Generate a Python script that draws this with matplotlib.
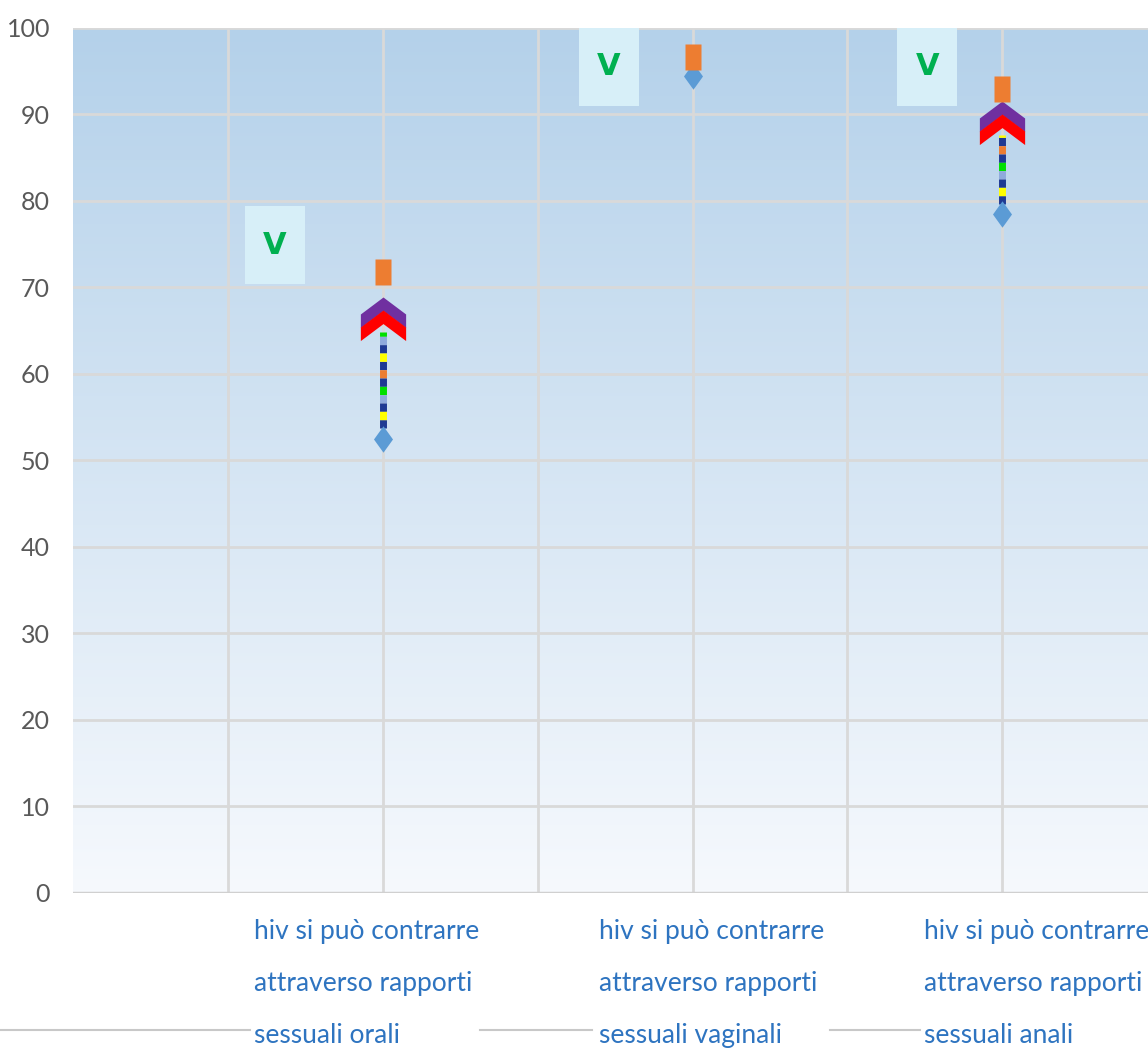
import numpy as np
import matplotlib
matplotlib.use('Agg')
import matplotlib.pyplot as plt
from matplotlib.path import Path
from matplotlib.patches import Rectangle
from matplotlib.lines import Line2D
import matplotlib.transforms as mtransforms

# data
categories = ['hiv si può contrarre\nattraverso rapporti\nsessuali orali',
              'hiv si può contrarre\nattraverso rapporti\nsessuali vaginali',
              'hiv si può contrarre\nattraverso rapporti\nsessuali anali']
cat_pos = [1, 2, 3]
before = [52.5, 94.5, 78.5]        # blue diamonds
after = [71.8, 96.6, 93.0]         # orange squares
arrow_tip = [68.9, None, 91.6]     # top of the coloured arrows
v_boxes = [(0.555, 70.4), (1.632, 91.0), (2.661, 91.0)]  # lower-left of "V" boxes
yticks = list(range(0, 101, 10))

fam = ['Lato', 'DejaVu Sans']

fig = plt.figure(figsize=(11.48, 10.55), dpi=100)
ax = fig.add_axes([0.0636, 0.1536, 0.9364, 0.8199])
ax.set_xlim(0, 3.47)
ax.set_ylim(0, 100)

# gradient background
grad = np.linspace(0, 1, 256).reshape(-1, 1)
top = np.array([180, 209, 234]) / 255.
bot = np.array([246, 249, 253]) / 255.
img = bot + (top - bot) * grad
ax.imshow(img[:, None, :].repeat(2, axis=1), extent=[0, 3.47, 0, 100],
          origin='lower', aspect='auto', zorder=0)

# grid
for y in yticks:
    ax.axhline(y, color='#d9d9d9', lw=2, zorder=1)
for x in np.arange(0.5, 3.5, 0.5):
    ax.axvline(x, color='#d9d9d9', lw=2, zorder=1)

for s in ax.spines.values():
    s.set_visible(False)
ax.tick_params(length=0)
ax.set_xticks([])
ax.set_yticks(yticks)
ax.set_yticklabels([str(t) for t in yticks], color='#595959', fontsize=18, family=fam)
ax.tick_params(axis='y', pad=16.5)

# arrows: multicoloured dotted shaft and double chevron head
shaft_cols = ['#1f3a93', '#ed7d31', '#1f3a93', '#00e000', '#8faadc', '#1f3a93', '#ffff00']
chev = Path([(0, 0), (1, -0.75), (1, -1.35), (0, -0.6), (-1, -1.35), (-1, -0.75), (0, 0)],
            [Path.MOVETO] + [Path.LINETO] * 5 + [Path.CLOSEPOLY])
for x, lo, hi in zip(cat_pos, before, arrow_tip):
    if hi is None:
        continue
    shaft_top = hi - 4
    n = len(shaft_cols)
    for i, c in enumerate(shaft_cols):
        ax.plot([x, x], [lo + 1.2, shaft_top], color=c, lw=5, zorder=3,
                linestyle=(i * 1.2, (1.2, 1.2 * (n - 1))), solid_capstyle='butt')
    ax.plot([x], [hi], marker=chev, ms=44, color='#7030a0', mec='none', zorder=4)
    ax.plot([x], [hi - 1.5], marker=chev, ms=44, color='#ff0000', mec='none', zorder=5)

# markers (tall, because the picture is stretched)
diamond = Path([(0, 1), (0.72, 0), (0, -1), (-0.72, 0), (0, 1)],
               [Path.MOVETO] + [Path.LINETO] * 3 + [Path.CLOSEPOLY])
rect = Path([(-0.64, -1), (0.64, -1), (0.64, 1), (-0.64, 1), (-0.64, -1)],
            [Path.MOVETO] + [Path.LINETO] * 3 + [Path.CLOSEPOLY])
ax.plot(cat_pos, before, ls='none', marker=diamond, ms=19, color='#5b9bd5', mec='none', zorder=6)
ax.plot(cat_pos, after, ls='none', marker=rect, ms=19, color='#ed7d31', mec='none', zorder=7)

# "V" boxes
for bx, by in v_boxes:
    ax.add_patch(Rectangle((bx, by), 0.194, 9.0, facecolor='#d7eff8', edgecolor='none', zorder=2))
    ax.text(bx + 0.097, by + 4.5, 'V', color='#00b050', fontsize=22, fontweight='bold',
            ha='center', va='center', zorder=3, family=['DejaVu Sans'])

# bottom axis line
ax.axhline(0, color='#d0d0d0', lw=2.5, zorder=2)

# category labels
lab_x = [0.584, 1.697, 2.748]
tr = mtransforms.blended_transform_factory(ax.transData, fig.transFigure)
for x, lab in zip(lab_x, categories):
    ax.text(x, 0.129, lab, transform=tr, ha='left', va='top', color='#2e74c0',
            fontsize=19, family=fam, linespacing=2.35, clip_on=False)

# little separator lines next to the last label row
for x0, x1 in [(0, 250), (480, 592), (830, 920)]:
    fig.add_artist(Line2D([x0 / 1148, x1 / 1148], [0.024, 0.024], color='#c8c8c8', lw=1.5))

fig.savefig('out.png', dpi=100, facecolor='white')
